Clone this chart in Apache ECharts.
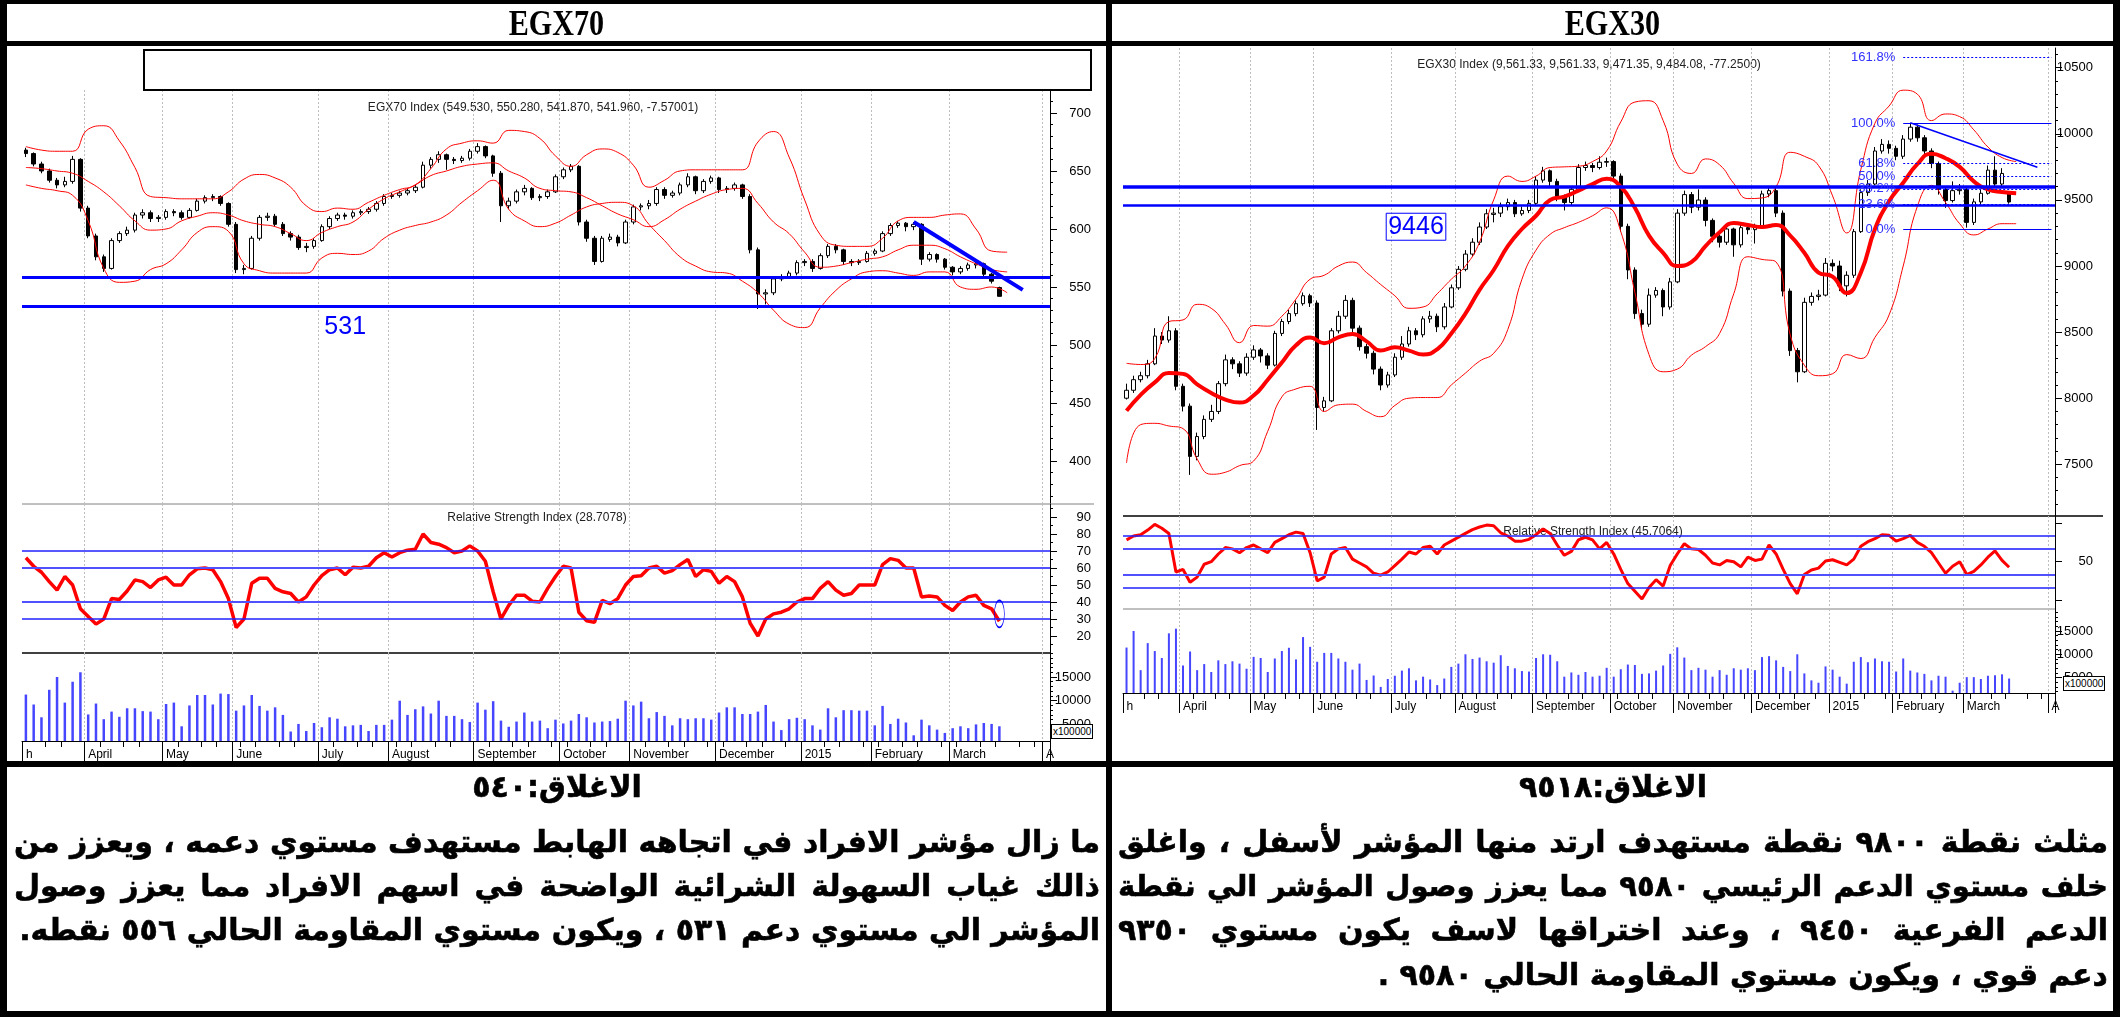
<!DOCTYPE html>
<html>
<head>
<meta charset="utf-8">
<script src="https://cdn.jsdelivr.net/npm/echarts@6/dist/echarts.min.js"></script>
<style>
html, body { margin: 0; padding: 0; background: #fff; }
#page { position: relative; width: 2120px; height: 1017px; overflow: hidden; background: #fff; }
.bar { position: absolute; background: #000; z-index: 3; }
.hdr { position: absolute; top: 4px; height: 37px; line-height: 38px; text-align: center; z-index: 3; color: #000; }
.hdr span { display: inline-block; font: bold 35px "Liberation Serif", "DejaVu Serif", serif; transform: scaleX(0.86); }
#chart { position: absolute; left: 0; top: 0; width: 2120px; height: 1017px; z-index: 2; }
.note { position: absolute; direction: rtl; font-family: "DejaVu Sans", sans-serif; font-weight: bold;
  font-size: 30px; line-height: 44px; height: 44px; white-space: nowrap; color: #000; z-index: 3;
  -webkit-text-stroke: 0.6px #000; }
.just { text-align: justify; text-align-last: justify; }
.ctr { text-align: center; }
.unit { position: absolute; z-index: 3; background: #fff; border: 1px solid #000;
  font: 10px "Liberation Sans Narrow", "Liberation Sans", sans-serif; line-height: 13px; padding: 0 1px; }
#box70 { position: absolute; left: 143px; top: 49px; width: 945px; height: 38px; border: 2px solid #000; background: #fff; z-index: 3; }
</style>
</head>
<body>
<div id="page">
  <div id="chart"></div>

  <div class="bar" style="left:0;top:0;width:2120px;height:4px"></div>
  <div class="bar" style="left:0;top:41px;width:2120px;height:5px"></div>
  <div class="bar" style="left:0;top:761px;width:2120px;height:6px"></div>
  <div class="bar" style="left:0;top:1011px;width:2120px;height:6px"></div>
  <div class="bar" style="left:0;top:0;width:7px;height:1017px"></div>
  <div class="bar" style="left:2113px;top:0;width:7px;height:1017px"></div>
  <div class="bar" style="left:1106px;top:0;width:6px;height:1017px"></div>

  <div class="hdr" style="left:7px;width:1099px"><span>EGX70</span></div>
  <div class="hdr" style="left:1112px;width:1001px"><span>EGX30</span></div>

  <div id="box70"></div>
  <div class="unit" style="left:1051px;top:724px">x100000</div>
  <div class="unit" style="left:2063px;top:676px">x100000</div>

  <div class="note ctr" style="left:14px;width:1086px;top:765px">الاغلاق:٥٤٠</div>
  <div class="note just" style="left:14px;width:1086px;top:820px">ما زال مؤشر الافراد في اتجاهه الهابط مستهدف مستوي دعمه ، ويعزز من</div>
  <div class="note just" style="left:14px;width:1086px;top:864px">ذالك غياب السهولة الشرائية الواضحة في اسهم الافراد مما يعزز وصول</div>
  <div class="note" style="left:14px;width:1086px;top:908px;text-align:right">المؤشر الي مستوي دعم ٥٣١ ، ويكون مستوي المقاومة الحالي ٥٥٦ نقطه.</div>

  <div class="note ctr" style="left:1118px;width:990px;top:765px">الاغلاق:٩٥١٨</div>
  <div class="note just" style="left:1118px;width:990px;top:820px">مثلث نقطة ٩٨٠٠ نقطة مستهدف ارتد منها المؤشر لأسفل ، واغلق</div>
  <div class="note just" style="left:1118px;width:990px;top:864px">خلف مستوي الدعم الرئيسي ٩٥٨٠ مما يعزز وصول المؤشر الي نقطة</div>
  <div class="note just" style="left:1118px;width:990px;top:908px">الدعم الفرعية ٩٤٥٠ ، وعند اختراقها لاسف يكون مستوي ٩٣٥٠</div>
  <div class="note" style="left:1118px;width:990px;top:953px;text-align:right">دعم قوي ، ويكون مستوي المقاومة الحالي ٩٥٨٠ .</div>
</div>

<script>
// shrink any note line that would not fit its cell
document.querySelectorAll('.note').forEach(function (el) {
  let size = 30;
  while (el.scrollWidth > el.clientWidth + 1 && size > 20) {
    size -= 0.5;
    el.style.fontSize = size + 'px';
  }
});

// month starts on the shared slot axis (one slot = two sessions)
const monthStart = [0, 8, 18, 27, 38, 47, 58, 69, 78, 89, 100, 109, 119, 131];
const monthName = ['h', 'April', 'May', 'June', 'July', 'August', 'September', 'October',
  'November', 'December', '2015', 'February', 'March', 'A'];
const slotCount = 132;

// ---------- EGX70 ----------
// [open, close, low, high]
const egx70Ohlc = [
  [668,665,662,670],[665,656,654,666],[656,650,648,658],[650,642,640,652],[642,638,635,644],
  [638,641,636,645],[641,660,639,663],[660,618,615,661],[618,594,592,620],[594,576,573,596],
  [576,566,563,578],[566,590,565,592],[590,596,588,598],[596,599,594,602],[599,612,597,614],
  [612,614,609,617],[614,609,606,616],[609,610,606,612],[610,615,608,617],[615,614,611,617],
  [614,610,608,616],[610,616,609,618],[616,624,615,626],[624,627,622,629],[627,628,624,630],
  [628,622,620,629],[622,604,602,623],[604,565,562,606],[565,566,561,569],[566,592,565,594],
  [592,610,590,612],[610,611,607,614],[611,604,602,613],[604,596,594,606],[596,593,590,598],
  [593,584,582,595],[584,585,580,588],[585,590,583,592],[590,602,589,604],[602,609,600,611],
  [609,612,607,614],[612,611,608,614],[611,614,609,616],[614,615,612,617],[615,617,613,619],
  [617,622,615,624],[622,628,620,630],[628,629,626,631],[629,631,627,633],[631,633,629,635],
  [633,636,631,638],[636,655,635,658],[655,660,652,662],[660,664,657,667],[664,660,651,665],
  [660,659,656,662],[659,661,657,663],[661,667,659,669],[667,671,665,674],[671,663,661,672],
  [663,648,645,664],[648,620,606,650],[620,624,617,627],[624,632,622,634],[632,635,629,638],
  [635,627,625,636],[627,628,624,630],[628,632,626,634],[632,645,631,647],[645,651,643,653],
  [651,654,649,656],[654,606,603,655],[606,592,589,608],[592,572,569,594],[572,592,571,594],
  [591,593,589,596],[593,588,585,595],[588,606,587,608],[606,619,604,621],[619,620,616,622],
  [620,622,617,625],[622,634,620,636],[634,629,626,636],[629,631,627,633],[631,638,629,640],
  [638,645,636,648],[645,633,630,646],[633,641,631,643],[641,644,639,646],[644,634,631,645],
  [634,635,631,637],[635,638,633,640],[638,628,626,639],[628,582,579,630],[582,544,531,584],
  [544,545,535,548],[545,557,543,559],[557,559,555,561],[559,562,557,564],[562,571,560,573],
  [571,572,568,574],[572,566,563,574],[566,577,565,579],[577,585,575,587],[585,582,579,587],
  [582,572,569,583],[572,571,568,574],[571,572,569,574],[572,579,571,581],[579,581,577,583],
  [581,596,580,598],[596,603,594,605],[603,605,601,607],[605,602,598,606],[602,604,599,606],
  [604,574,569,605],[574,578,572,580],[578,574,571,579],[574,567,565,575],[567,563,560,568],
  [563,566,561,568],[566,569,564,571],[569,570,566,572],[570,561,559,571],[561,555,553,562],
  [549.53,541.96,541.87,550.28]
];
// Bollinger bands, one value every second slot
const egx70Upper = [671,668,667,667,686,689,676,653,628,627, 626,626,626,632,643,647,644,636,620,615,
  618,617,623,629,634,638,652,669,674,676, 674,685,684,678,663,654,664,669,666,655,
  636,642,650,651,651,651,651,675,684,662, 625,595,586,585,585,592,607,610,610,612, 613,600,581,580];
const egx70Middle = [653,652,650,648,641,632,620,607,599,600, 607,611,614,612,607,604,602,596,590,597,
  602,606,617,626,632,638,646,650,654,656, 657,650,644,635,633,632,627,620,613,608,
  602,608,617,624,630,634,635,622,606,596, 580,567,568,571,574,576,582,586,586,583, 576,570,565,563];
const egx70Lower = [638,635,633,629,607,566,554,555,565,570, 582,597,602,598,570,564,562,562,562,575,
  579,578,581,592,599,603,606,612,623,633, 642,617,607,602,605,612,619,622,623,620,
  604,590,576,568,563,562,555,545,530,518, 515,532,547,557,563,564,562,560,563,563, 550,548,550,545];
const egx70Rsi = [66,61,57.5,52,47,55,50,36,31.5,27, 30,42,41.5,46.5,53,52,48.5,53,54.6,50,
  50,56,59.5,60,59,52,42,25,30,51, 54,54,48,46,45,40,43,50,55.5,59,
  60,56,60.5,60,61,66,69,66.5,69,70.5, 71,80,75,74,72,69,70,73,70,64,
  46,30,38,44,44,40.5,40,48,55,61, 60,34,29,28,41,39,42,50,55,55.4,
  60,61,57,58.5,62,65,55,59,58,51, 55,52,43,27.5,20,30,33,34,36,40,
  42,42,48,52,47,44,45,50,50,50, 62,65.5,64.5,60,60,43,43.5,43,38,35,
  40,43,44,38,36,28.7];
const egx70Volume = [11300,9200,6500,12300,15000,9600,14000,16000,7100,9400, 6100,7700,6600,8400,8400,7800,7700,6100,9300,9600,
  4600,9000,11200,11200,9200,11500,11400,7900,9000,11200, 8900,7900,8600,7000,3500,5100,3600,5300,4400,6500,
  6200,4600,4800,4900,3600,4900,4900,6000,10000,7000, 8200,8800,7300,10000,6800,6800,6100,5500,9600,8100,
  9900,5800,4500,5600,7500,5600,5800,4200,6000,5200, 5800,7200,6500,5400,5600,5700,6200,10000,9000,9800,
  6300,7600,6800,4800,6300,6100,6300,6300,6000,7500, 8600,8600,7200,7200,7700,9100,5600,3800,6100,6400,
  6100,4800,3900,8400,6500,8000,8000,7900,7900,4800, 8900,5100,6200,5400,2700,6000,4800,3900,3200,4200,
  4600,4200,5000,5300,5100,4600];
const egx70Levels = [558.5, 533];
const egx70Trend = [[114, 606], [128, 547.5]];
const egx70Note = { coord: [41, 515], text: '531' };
const egx70RsiMark = [125, 33];

// ---------- EGX30 ----------
const egx30Ohlc = [
  [8000,8060,7990,8110],[8060,8140,8040,8170],[8140,8170,8120,8200],[8170,8260,8150,8290],[8260,8470,8250,8530],
  [8470,8440,8410,8500],[8440,8510,8420,8620],[8510,8090,8060,8530],[8090,7940,7900,8110],[7940,7560,7420,7960],
  [7560,7710,7530,7740],[7710,7840,7690,7870],[7840,7900,7820,7950],[7900,8110,7880,8130],[8110,8290,8090,8330],
  [8290,8260,8220,8310],[8260,8190,8160,8280],[8190,8310,8170,8340],[8310,8365,8290,8400],[8365,8320,8270,8380],
  [8320,8250,8220,8340],[8250,8490,8240,8510],[8490,8580,8470,8600],[8580,8640,8560,8670],[8640,8715,8620,8740],
  [8715,8775,8700,8800],[8775,8720,8690,8790],[8720,7930,7760,8740],[7930,7980,7900,8010],[7980,8510,7970,8530],
  [8510,8620,8490,8660],[8620,8740,8600,8780],[8740,8530,8500,8760],[8530,8390,8360,8550],[8390,8340,8300,8410],
  [8340,8220,8180,8360],[8220,8100,8060,8240],[8100,8176,8080,8200],[8176,8310,8160,8340],[8310,8410,8290,8470],
  [8410,8510,8390,8540],[8510,8480,8440,8530],[8480,8600,8460,8620],[8600,8620,8570,8660],[8620,8540,8500,8640],
  [8540,8690,8520,8720],[8690,8835,8680,8860],[8835,8975,8820,9000],[8975,9090,8960,9120],[9090,9180,9070,9210],
  [9180,9295,9160,9330],[9295,9395,9280,9430],[9390,9400,9330,9440],[9400,9449,9370,9480],[9449,9480,9420,9510],
  [9480,9395,9370,9500],[9395,9420,9380,9450],[9420,9474,9400,9500],[9474,9650,9460,9680],[9650,9720,9630,9750],
  [9720,9640,9600,9730],[9640,9525,9490,9660],[9525,9480,9420,9540],[9480,9580,9460,9600],[9580,9745,9570,9770],
  [9745,9760,9720,9790],[9760,9745,9710,9780],[9745,9785,9730,9830],[9785,9790,9750,9820],[9790,9680,9650,9800],
  [9680,9300,9260,9700],[9300,8970,8900,9320],[8970,8640,8600,8990],[8640,8560,8520,8670],[8560,8780,8540,8830],
  [8780,8815,8760,8840],[8815,8690,8620,8830],[8690,8880,8670,8910],[8880,9400,8870,9430],[9400,9540,9380,9570],
  [9540,9445,9400,9560],[9445,9499,9420,9580],[9499,9345,9300,9520],[9345,9225,9180,9360],[9225,9180,9140,9240],
  [9180,9280,9160,9310],[9280,9160,9070,9290],[9160,9290,9140,9320],[9290,9275,9240,9310],[9275,9300,9170,9320],
  [9300,9545,9290,9570],[9545,9570,9520,9600],[9570,9400,9370,9590],[9400,8810,8770,9420],[8810,8360,8320,8830],
  [8360,8200,8120,8380],[8200,8725,8190,8760],[8725,8770,8700,8800],[8770,8780,8740,8820],[8780,9020,8770,9060],
  [9020,9000,8960,9050],[9000,8850,8810,9040],[8850,8930,8770,8960],[8930,9260,8910,9280],[9260,9555,9250,9580],
  [9555,9620,9530,9650],[9620,9870,9610,9900],[9870,9920,9850,9960],[9920,9890,9850,9950],[9890,9830,9800,9910],
  [9830,9960,9810,9990],[9960,10050,9940,10080],[10050,9970,9940,10070],[9970,9870,9840,9990],[9870,9775,9740,9890],
  [9775,9580,9540,9790],[9580,9495,9440,9600],[9495,9570,9480,9640],[9570,9580,9540,9620],[9580,9330,9290,9600],
  [9330,9485,9310,9510],[9485,9550,9460,9580],[9550,9725,9540,9760],[9725,9620,9590,9830],[9620,9700,9600,9740],
  [9561.33,9484.08,9471.35,9561.33]
];
const egx30Upper = [8264,8255,8300,8580,8592,8710,8680,8560,8420,8550, 8545,8620,8750,8900,8930,9000,9030,8950,8860,8775,
  8680,8690,8790,8900,9000,9180,9500,9680,9640,9680, 9745,9750,9755,9790,9870,10090,10240,10250,10100,9770,
  9700,9810,9765,9625,9510,9515,9600,9860,9830,9760, 9530,9250,9730,10080,10210,10330,10300,10100,10150,10130,
  10030,9900,9820,9790];
const egx30Middle = [7905,8025,8120,8190,8184,8105,8040,7990,7967,8020, 8140,8270,8400,8460,8415,8460,8485,8430,8360,8385,
  8360,8330,8370,8490,8640,8820,8970,9150,9280,9380, 9500,9525,9570,9620,9660,9600,9440,9230,9100,9000,
  9030,9150,9255,9325,9310,9295,9310,9230,9100,8950, 8920,8795,8950,9280,9490,9630,9770,9850,9815,9750,
  9640,9580,9560,9550];
const egx30Lower = [7510,7800,7810,7790,7770,7540,7425,7440,7490,7525, 7750,8010,8070,8090,7900,7950,7955,7900,7860,7945,
  8000,8005,8005,8100,8190,8280,8340,8520,8900,9120, 9240,9290,9330,9380,9440,9260,8800,8330,8200,8220,
  8325,8390,8490,8790,9070,9050,9030,8480,8250,8170, 8185,8330,8300,8460,8630,9000,9450,9610,9480,9320,
  9235,9280,9320,9320];
const egx30Rsi = [67,70,71,74.6,79,76,72,42,44,34, 38,48,50,56,61,60,57,61,63,60,
  57,65,68,71,73,72,57,35,38,56, 60,61,52,49,46,41,39.5,42,47,52,
  57.5,56,61,62,56,63,66,69,72,75, 77,78.5,78,72.5,70,66,66,67.4,71,75.5,
  72,63,55,58,67,69,67,60,65,56, 44,33,27,21,30,36,31,47,56,64,
  60,59.5,55,49,47.5,51,50,46,53.5,51, 52,63,56,44,33,25,40,43.5,45,50.5,
  51.5,49.5,47.5,52,62,65.6,68,71,70.5,66, 68,70.5,65,62,57,49,41,46.5,50,40,
  42.5,47.5,53.5,58.5,51,45.7];
const egx30Volume = [11450,15000,6600,12400,10700,9200,14500,15500,7600,10600, 6600,7900,6200,8700,7900,8500,8000,6900,9450,9200,
  6200,9100,10700,11400,8900,13700,11600,8400,10300,10300, 9100,8400,6700,8000,4500,5450,3000,4700,5400,6500,
  7000,4400,5200,4600,3400,4800,7300,8000,10000,9000, 9300,8500,8200,9800,7500,7000,6400,6300,9200,10000,
  9900,8500,5200,6100,5600,6200,5200,5400,7100,5200, 6800,7800,7700,5800,5900,6500,7600,10100,11500,9300,
  6600,7100,6700,5200,6600,5600,7000,6700,7000,6600, 9400,9600,8700,7300,6400,10000,5900,4400,3900,7400,
  6700,5200,3700,8400,9400,8300,9100,8500,8400,6300, 9100,6500,6100,5800,4400,5400,5200,2200,3900,5100,
  5100,4700,5400,5500,5700,4800];
const egx30Levels = [9598, 9462];
const egx30Trend = [[111, 10084], [129, 9747]];
const egx30Note = { coord: [41, 9297], text: '9446' };
const fibLevels = [10579, 10079, 9777, 9681, 9584, 9467, 9278];
const fibNames = ['161.8%', '100.0%', '61.8%', '50.0%', '38.2%', '23.6%', '0.0%'];
const fibSolid = [false, true, false, false, false, false, true];
const fibStart = 110, fibEnd = 131;
const rsiLevels = [70, 60, 40, 30];

const FONT = '"Liberation Sans Narrow", "Liberation Sans", Arial, sans-serif';
const BLUE = '#0000ff';
const cats = Array.from({ length: slotCount }, (_, i) => i);
const isMonth = i => monthStart.indexOf(i) >= 0;
const bandData = arr => arr.map((v, j) => [j * 2, v]);
const steps = (a, b, s) => { const r = []; for (let v = a; v <= b + 1e-9; v += s) r.push(v); return r; };

const chart = echarts.init(document.getElementById('chart'));

function xMain(grid, labels) {
  return {
    type: 'category', gridIndex: grid, data: cats, boundaryGap: true,
    axisLine: { show: labels, lineStyle: { color: '#000', width: 1 } },
    axisTick: { show: labels, interval: i => isMonth(i), length: 20, lineStyle: { color: '#000' } },
    axisLabel: {
      show: labels, interval: i => isMonth(i), align: 'left', margin: 8,
      formatter: (v, i) => monthName[monthStart.indexOf(i)],
      fontSize: 12, fontFamily: FONT, color: '#000'
    },
    splitLine: { show: true, interval: i => isMonth(i) && i > 0, lineStyle: { color: '#bdbdbd', type: [2, 2], width: 1 } }
  };
}
function xWeek(grid) {
  return {
    type: 'category', gridIndex: grid, data: cats, boundaryGap: true, position: 'bottom',
    axisLine: { show: false }, axisLabel: { show: false }, splitLine: { show: false },
    axisTick: { show: true, interval: i => i % 5 === 0 || i % 5 === 3, length: 6, lineStyle: { color: '#000' } }
  };
}
function yMain(grid, min, max, labelVals, tickVals, margin) {
  return {
    type: 'value', gridIndex: grid, position: 'right', min, max,
    axisLine: { show: true, onZero: false, lineStyle: { color: '#000', width: 1 } },
    axisTick: { show: true, customValues: tickVals, length: 7, lineStyle: { color: '#000' } },
    axisLabel: {
      show: true, customValues: labelVals, margin, align: 'right', fontSize: 13, fontFamily: FONT, color: '#000',
      formatter: v => String(v)
    },
    splitLine: { show: false }
  };
}
function yMinor(grid, min, max, vals) {
  return {
    type: 'value', gridIndex: grid, position: 'right', min, max,
    axisLine: { show: false }, axisLabel: { show: false }, splitLine: { show: false },
    axisTick: { show: true, customValues: vals, length: 3, lineStyle: { color: '#000' } }
  };
}
const noLabel = { show: false };
function levelLines(values, widths) {
  return values.map((v, i) => ({ yAxis: v, lineStyle: { color: BLUE, width: widths[i], type: 'solid' } }));
}
function rsiLines() {
  return rsiLevels.map((v, i) => ({ yAxis: v, lineStyle: { color: i % 3 === 0 ? '#2020ff' : '#5050ff', width: i % 3 === 0 ? 1.5 : 2, type: 'solid' } }));
}
function candle(xi, yi, data, note) {
  return {
    type: 'candlestick', xAxisIndex: xi, yAxisIndex: yi, data, barWidth: 4,
    itemStyle: { color: '#ffffff', color0: '#000000', borderColor: '#000000', borderColor0: '#000000', borderWidth: 1 },
    markPoint: {
      silent: true, animation: false, symbol: 'circle', symbolSize: 0,
      data: [{ coord: note.coord }],
      label: {
        show: true, position: 'inside', formatter: note.text, color: BLUE, fontSize: 25, fontFamily: FONT,
        borderColor: note.box ? BLUE : 'transparent', borderWidth: note.box ? 1 : 0, padding: [2, 2, 0, 2]
      }
    }
  };
}
function band(xi, yi, arr, width, extra) {
  return Object.assign({
    type: 'line', xAxisIndex: xi, yAxisIndex: yi, data: bandData(arr), smooth: true, symbol: 'none',
    lineStyle: { color: '#ff0000', width }, z: 3
  }, extra || {});
}

const option = {
  animation: false,
  textStyle: { fontFamily: FONT },
  grid: [
    { left: 22, top: 90, width: 1028, height: 413 },
    { left: 22, top: 504, width: 1028, height: 149 },
    { left: 22, top: 653, width: 1028, height: 88 },
    { left: 1123, top: 48, width: 932, height: 468 },
    { left: 1123, top: 516, width: 932, height: 93 },
    { left: 1123, top: 609, width: 932, height: 84 }
  ],
  xAxis: [xMain(0, false), xMain(1, false), xMain(2, true), xMain(3, false), xMain(4, false), xMain(5, true), xWeek(2), xWeek(5)],
  yAxis: [
    yMain(0, 363.8, 719.8, steps(400, 700, 50), steps(400, 700, 50), 41),
    yMain(1, 10, 97.65, steps(20, 90, 10), steps(20, 90, 10), 41),
    yMain(2, 1498, 20063, [5000, 10000, 15000], [5000, 10000, 15000], 41),
    yMain(3, 7109, 10649, steps(7500, 10500, 500), steps(7500, 10500, 500), 38),
    yMain(4, 13.2, 85.56, [50], [20, 50, 80], 38),
    yMain(5, 1695, 19721, [5000, 10000, 15000], [5000, 10000, 15000], 38),
    yMinor(0, 363.8, 719.8, steps(370, 710, 10)),
    yMinor(1, 10, 97.65, steps(15, 95, 5)),
    yMinor(2, 1498, 20063, steps(2000, 20000, 1000)),
    yMinor(3, 7109, 10649, steps(7200, 10600, 100)),
    yMinor(5, 1695, 19721, steps(2000, 19000, 1000))
  ],
  graphic: [
    { type: 'text', x: 533, y: 108, silent: true, style: { text: 'EGX70 Index (549.530, 550.280, 541.870, 541.960, -7.57001)', fill: '#222', font: '12px ' + FONT, align: 'center', verticalAlign: 'middle' } },
    { type: 'text', x: 537, y: 518, silent: true, style: { text: 'Relative Strength Index (28.7078)', fill: '#222', font: '12px ' + FONT, align: 'center', verticalAlign: 'middle' } },
    { type: 'text', x: 1589, y: 65, silent: true, style: { text: 'EGX30 Index (9,561.33, 9,561.33, 9,471.35, 9,484.08, -77.2500)', fill: '#222', font: '12px ' + FONT, align: 'center', verticalAlign: 'middle' } },
    { type: 'text', x: 1593, y: 532, silent: true, style: { text: 'Relative Strength Index (45.7064)', fill: '#222', font: '12px ' + FONT, align: 'center', verticalAlign: 'middle' } },
    { type: 'line', silent: true, shape: { x1: 22, y1: 504, x2: 1094, y2: 504 }, style: { stroke: '#808080', lineWidth: 1 } },
    { type: 'line', silent: true, shape: { x1: 22, y1: 653, x2: 1050, y2: 653 }, style: { stroke: '#000', lineWidth: 1.5 } },
    { type: 'line', silent: true, shape: { x1: 1123, y1: 516, x2: 2103, y2: 516 }, style: { stroke: '#000', lineWidth: 1.5 } },
    { type: 'line', silent: true, shape: { x1: 1123, y1: 609, x2: 2055, y2: 609 }, style: { stroke: '#808080', lineWidth: 1 } }
  ],
  series: [
    // EGX70 price
    candle(0, 0, egx70Ohlc, egx70Note),
    band(0, 0, egx70Upper, 1),
    band(0, 0, egx70Lower, 1),
    band(0, 0, egx70Middle, 1, {
      markLine: {
        silent: true, animation: false, symbol: ['none', 'none'], label: noLabel,
        data: levelLines(egx70Levels, [3, 3]).concat([[
          { coord: egx70Trend[0], lineStyle: { color: BLUE, width: 4, type: 'solid' } }, { coord: egx70Trend[1] }
        ]])
      }
    }),
    // EGX70 RSI
    {
      type: 'line', xAxisIndex: 1, yAxisIndex: 1, data: egx70Rsi, symbol: 'none',
      lineStyle: { color: '#ff0000', width: 3.5 }, z: 3,
      markLine: { silent: true, animation: false, symbol: ['none', 'none'], label: noLabel, data: rsiLines() },
      markPoint: {
        silent: true, animation: false, symbol: 'circle', symbolSize: [10, 27], label: noLabel,
        itemStyle: { color: 'rgba(0,0,0,0)', borderColor: BLUE, borderWidth: 1 },
        data: [{ coord: egx70RsiMark }]
      }
    },
    // EGX70 volume
    { type: 'bar', xAxisIndex: 2, yAxisIndex: 2, data: egx70Volume, barWidth: 2.5, itemStyle: { color: '#4646ff' } },

    // EGX30 price
    candle(3, 3, egx30Ohlc, Object.assign({ box: true }, egx30Note)),
    band(3, 3, egx30Upper, 1),
    band(3, 3, egx30Lower, 1),
    band(3, 3, egx30Middle, 4, {
      markLine: {
        silent: true, animation: false, symbol: ['none', 'none'], label: noLabel,
        data: levelLines(egx30Levels, [3.5, 2.5])
          .concat([[{ coord: egx30Trend[0], lineStyle: { color: BLUE, width: 1.5, type: 'solid' } }, { coord: egx30Trend[1] }]])
          .concat(fibLevels.map((v, i) => [
            {
              coord: [fibStart, v],
              lineStyle: { color: BLUE, width: 1, type: fibSolid[i] ? 'solid' : [2, 2] },
              label: { show: true, position: 'start', formatter: fibNames[i], color: '#3030ff', fontSize: 13, fontFamily: FONT, distance: 8 }
            },
            { coord: [fibEnd, v] }
          ]))
      }
    }),
    // EGX30 RSI
    {
      type: 'line', xAxisIndex: 4, yAxisIndex: 4, data: egx30Rsi, symbol: 'none',
      lineStyle: { color: '#ff0000', width: 3 }, z: 3,
      markLine: { silent: true, animation: false, symbol: ['none', 'none'], label: noLabel, data: rsiLines() }
    },
    // EGX30 volume
    { type: 'bar', xAxisIndex: 5, yAxisIndex: 5, data: egx30Volume, barWidth: 2, itemStyle: { color: '#4646ff' } }
  ]
};
chart.setOption(option);
</script>
</body>
</html>
